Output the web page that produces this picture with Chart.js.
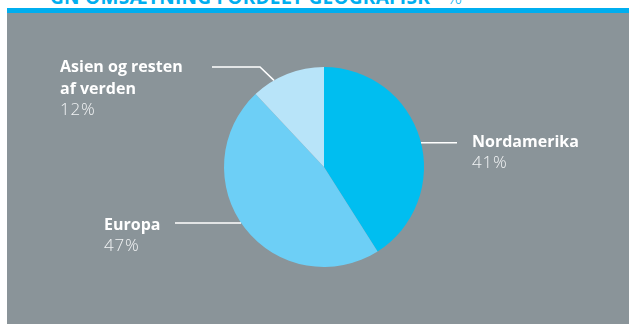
<!DOCTYPE html>
<html>
<head>
<meta charset="utf-8">
<script src="https://cdn.jsdelivr.net/npm/chart.js@4.4.1/dist/chart.umd.min.js"></script>
<style>
    html, body { margin: 0; padding: 0; background: #ffffff; }
    #wrap { position: relative; width: 632px; height: 324px; overflow: hidden; }
    #title {
        position: absolute; left: 50px; top: -16px; letter-spacing: 0.3px;
        font: bold 19px "Open Sans", sans-serif; color: #00aeef; white-space: nowrap;
    }
    #title span { font-weight: 300; letter-spacing: 0; margin-left: -3px; }
    #strip { position: absolute; left: 7px; top: 8px; width: 622px; height: 5px; background: #00aeef; }
    #panel { position: absolute; left: 7px; top: 13px; width: 622px; height: 311px; background: #8a9499; }
    #chart { position: absolute; left: 0; top: 0; }
</style>
</head>
<body>
<div id="wrap">
    <div id="title">GN OMSÆTNING FORDELT GEOGRAFISK <span>– %</span></div>
    <div id="strip"></div>
    <div id="panel"></div>
    <canvas id="chart" width="632" height="324"></canvas>
</div>
<script>
// Data
const regions = ['Nordamerika', 'Europa', 'Asien og resten af verden'];
const shares = [41, 47, 12];
const sliceColors = ['#00bef0', '#6dcff6', '#b8e4f9'];

// label layout: lines of the name, text anchor, leader line (angle on the rim, elbow, end)
const labelLayout = [
    { lines: ['Nordamerika'], x: 472, y: 147, angle: -14, elbow: null, end: [457, 0] },
    { lines: ['Europa'], x: 104, y: 230, angle: 146, elbow: null, end: [175, 0] },
    { lines: ['Asien og resten', 'af verden'], x: 60, y: 72, angle: -120, elbow: [260, 67], end: [212, 67] }
];

const labelPlugin = {
    id: 'pieLabels',
    afterDraw(chart) {
        const ctx = chart.ctx;
        const arc = chart.getDatasetMeta(0).data[0];
        const cx = arc.x, cy = arc.y, r = arc.outerRadius;
        ctx.save();
        labelLayout.forEach((lab, i) => {
            const a = lab.angle * Math.PI / 180;
            const sx = cx + Math.cos(a) * r;
            const sy = cy + Math.sin(a) * r;
            ctx.strokeStyle = '#ffffff';
            ctx.lineWidth = 1.5;
            ctx.beginPath();
            ctx.moveTo(sx, sy);
            if (lab.elbow) {
                ctx.lineTo(lab.elbow[0], lab.elbow[1]);
                ctx.lineTo(lab.end[0], lab.end[1]);
            } else {
                ctx.lineTo(lab.end[0], sy);
            }
            ctx.stroke();

            ctx.fillStyle = '#ffffff';
            ctx.textAlign = 'left';
            ctx.textBaseline = 'alphabetic';
            ctx.font = 'bold 16px "Open Sans", sans-serif';
            ctx.letterSpacing = '0px';
            let y = lab.y;
            lab.lines.forEach(t => {
                ctx.fillText(t, lab.x, y);
                y += 22;
            });
            ctx.font = '300 17px "Open Sans", sans-serif';
            ctx.letterSpacing = '0.8px';
            ctx.fillStyle = '#f2f4f5';
            ctx.fillText(shares[i] + '%', lab.x, y - 1);
        });
        ctx.restore();
    }
};

new Chart(document.getElementById('chart'), {
    type: 'pie',
    data: {
        labels: regions,
        datasets: [{
            data: shares,
            backgroundColor: sliceColors,
            borderWidth: 0
        }]
    },
    options: {
        responsive: false,
        animation: false,
        layout: { padding: { left: 224, right: 208, top: 67, bottom: 57 } },
        plugins: {
            legend: { display: false },
            tooltip: { enabled: false }
        }
    },
    plugins: [labelPlugin]
});
</script>
</body>
</html>
